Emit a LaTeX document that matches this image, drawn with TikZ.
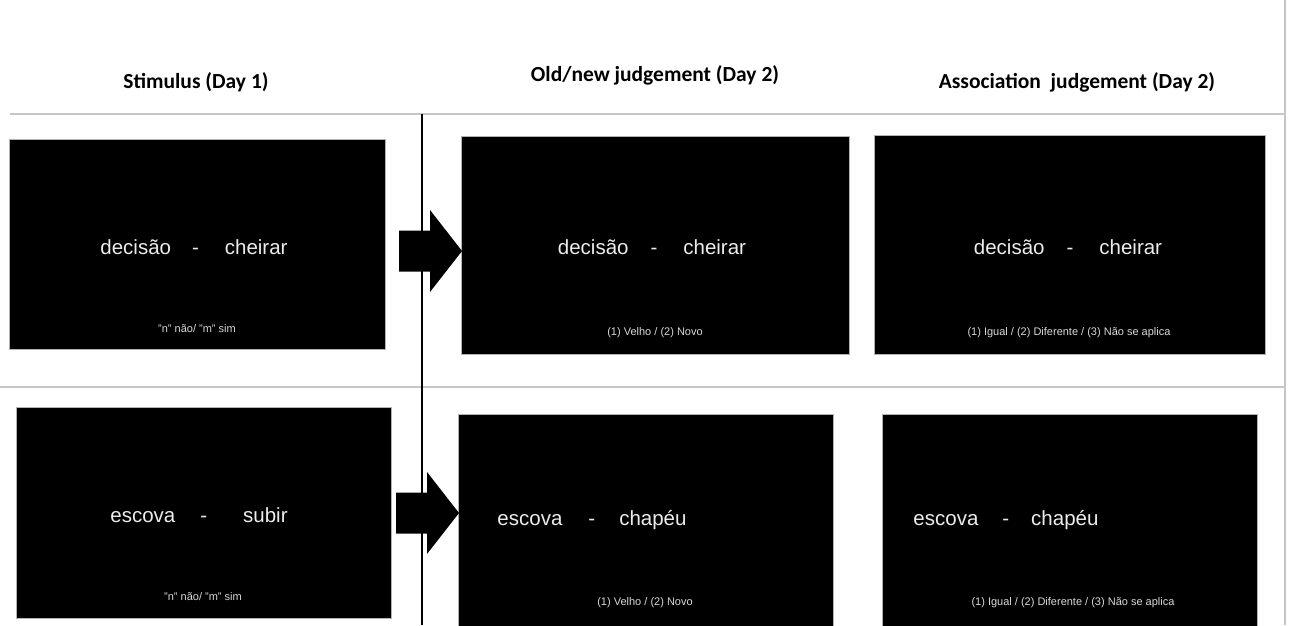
\documentclass[tikz,border=0pt]{standalone}
\usepackage{fontspec}
\setmainfont{Liberation Sans}
\newfontfamily\headfont{Carlito}
\usetikzlibrary{positioning}

\begin{document}
\begin{tikzpicture}[
    x = 1pt, y = -1pt,
    screen/.style = {draw=gray!60, line width=0.8pt, fill=black, inner sep=0pt, anchor=north west},
    pair/.style = {text=gray!15, inner sep=0pt, font=\fontsize{20.5}{24}\selectfont},
    prompt/.style = {text=gray!30, inner sep=0pt, font=\fontsize{11}{13}\selectfont},
    head/.style = {inner sep=0pt, font=\headfont\bfseries\fontsize{21.5}{25}\selectfont},
    rule/.style = {draw=gray!45, line width=1.2pt},
    pics/bigarrow/.style = {code={
        \fill (0,-20.5) -- (31,-20.5) -- (31,-41) -- (63,0) -- (31,41) -- (31,20.5) -- (0,20.5) -- cycle;
    }}
]
    \useasboundingbox (0,0) rectangle (1289,625);

    % Table rules
    \draw [rule] (10,114) -- (1285,114);
    \draw [rule] (0,387) -- (1285,387);
    \draw [rule] (1285,0) -- (1285,625);
    \draw [line width=1.5pt] (422,114) -- (422,625);

    % Headers
    \node [head] (hstim) at (196,82) {Stimulus (Day 1)};
    \node [head] (hold) at (655,75) {Old/new judgement (Day 2)};
    \node [head] (hassoc) at (1077,82) {Association\ \ judgement (Day 2)};

    % Screens, first trial
    \node [screen, minimum width=376pt, minimum height=210pt] (stimA) at (9,139) {};
    \node [screen, minimum width=388pt, minimum height=218pt] (oldA) at (461,136) {};
    \node [screen, minimum width=391pt, minimum height=219pt] (assocA) at (874,135) {};
    % Screens, second trial
    \node [screen, minimum width=375pt, minimum height=211pt] (stimB) at (16,407) {};
    \node [screen, minimum width=375pt, minimum height=212pt] (oldB) at (458,414) {};
    \node [screen, minimum width=375pt, minimum height=212pt] (assocB) at (882,414) {};

    % Word pairs
    \node [pair] (wstimA) at (194,247) {decisão\hspace{21pt}-\hspace{26pt}cheirar};
    \node [pair] (woldA) at (652,247) {decisão\hspace{22pt}-\hspace{26pt}cheirar};
    \node [pair] (wassocA) at (1068,247) {decisão\hspace{22pt}-\hspace{26pt}cheirar};
    \node [pair] (wstimB) at (199,515) {escova\hspace{25pt}-\hspace{36pt}subir};
    \node [pair] (woldB) at (592,520) {escova\hspace{26pt}-\hspace{24pt}chapéu};
    \node [pair] (wassocB) at (1006,520) {escova\hspace{24pt}-\hspace{22pt}chapéu};

    % Response prompts
    \node [prompt] (pstimA) at (197,329) {"n" não/ "m" sim};
    \node [prompt] (poldA) at (655,333) {(1) Velho / (2) Novo};
    \node [prompt] (passocA) at (1069,333) {(1) Igual / (2) Diferente / (3) Não se aplica};
    \node [prompt] (pstimB) at (203,597) {"n" não/ "m" sim};
    \node [prompt] (poldB) at (645,603) {(1) Velho / (2) Novo};
    \node [prompt] (passocB) at (1073,603) {(1) Igual / (2) Diferente / (3) Não se aplica};

    % Block arrows
    \pic at (399,251) {bigarrow};
    \pic at (396,513) {bigarrow};
\end{tikzpicture}
\end{document}
